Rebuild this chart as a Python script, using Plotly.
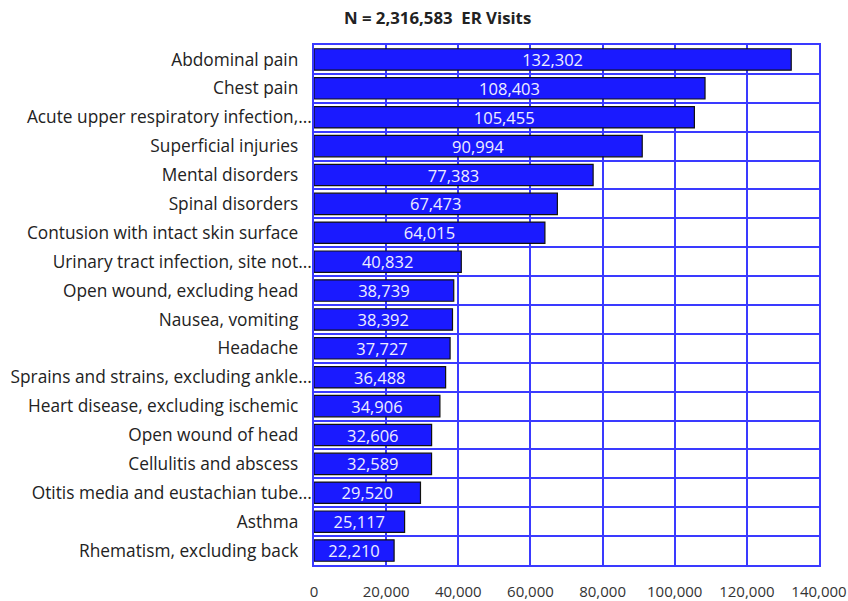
import plotly.graph_objects as go

categories = [
    "Abdominal pain",
    "Chest pain",
    "Acute upper respiratory infection,...",
    "Superficial injuries",
    "Mental disorders",
    "Spinal disorders",
    "Contusion with intact skin surface",
    "Urinary tract infection, site not...",
    "Open wound, excluding head",
    "Nausea, vomiting",
    "Headache",
    "Sprains and strains, excluding ankle...",
    "Heart disease, excluding ischemic",
    "Open wound of head",
    "Cellulitis and abscess",
    "Otitis media and eustachian tube...",
    "Asthma",
    "Rhematism, excluding back",
]
visits = [132302, 108403, 105455, 90994, 77383, 67473, 64015, 40832, 38739,
          38392, 37727, 36488, 34906, 32606, 32589, 29520, 25117, 22210]
x_ticks = [0, 20000, 40000, 60000, 80000, 100000, 120000, 140000]
x_tick_labels = ["0", "20,000", "40,000", "60,000", "80,000", "100,000", "120,000", "140,000"]
title_text = "N = 2,316,583  ER Visits"

FONT = "Open Sans, sans-serif"
GRID = "#3a3aff"

# full labels get a little trailing space, truncated ones sit closer to the axis
y_tick_text = [c if c.endswith("...") else c + "\u00a0\u00a0\u00a0" for c in categories]

fig = go.Figure(go.Bar(
    x=visits,
    y=categories,
    orientation="h",
    width=0.74,
    marker=dict(color="#1a1aff", line=dict(color="#111111", width=1.2)),
    text=[f"{v:,}" for v in visits],
    textposition="inside",
    insidetextanchor="middle",
    textfont=dict(color="#eeeeff", size=16.5, family=FONT),
    textangle=0,
    constraintext="none",
    cliponaxis=False,
))

fig.update_layout(
    width=848, height=601,
    margin=dict(l=314, r=29, t=45, b=36),
    paper_bgcolor="white",
    plot_bgcolor="white",
    showlegend=False,
    title=dict(text=f"<b>{title_text}</b>", x=0.516, xanchor="center", y=0.97, yanchor="middle",
               font=dict(family=FONT, size=16.8, color="#222222")),
    font=dict(family=FONT, size=16, color="#222222"),
)
fig.update_xaxes(
    range=[0, 140000],
    tickvals=x_ticks, ticktext=x_tick_labels,
    showgrid=True, gridcolor=GRID, gridwidth=1.5,
    zeroline=False,
    showline=True, linecolor=GRID, linewidth=1.5, mirror=True,
    tickfont=dict(family=FONT, size=15, color="#333333"),
    ticks="", ticklabelstandoff=12,
    automargin=False,
)
fig.update_yaxes(
    autorange="reversed",
    type="category",
    tickvals=categories, ticktext=y_tick_text,
    tickson="boundaries",
    showgrid=True, gridcolor=GRID, gridwidth=1.5,
    showline=True, linecolor=GRID, linewidth=1.5, mirror=True,
    ticks="",
    tickfont=dict(family=FONT, size=17.3, color="#222222"),
    ticklabelstandoff=-3,
    automargin=False,
)

fig.write_html("out.html", config={"displayModeBar": False},
               post_script="document.body.style.margin='0';")
